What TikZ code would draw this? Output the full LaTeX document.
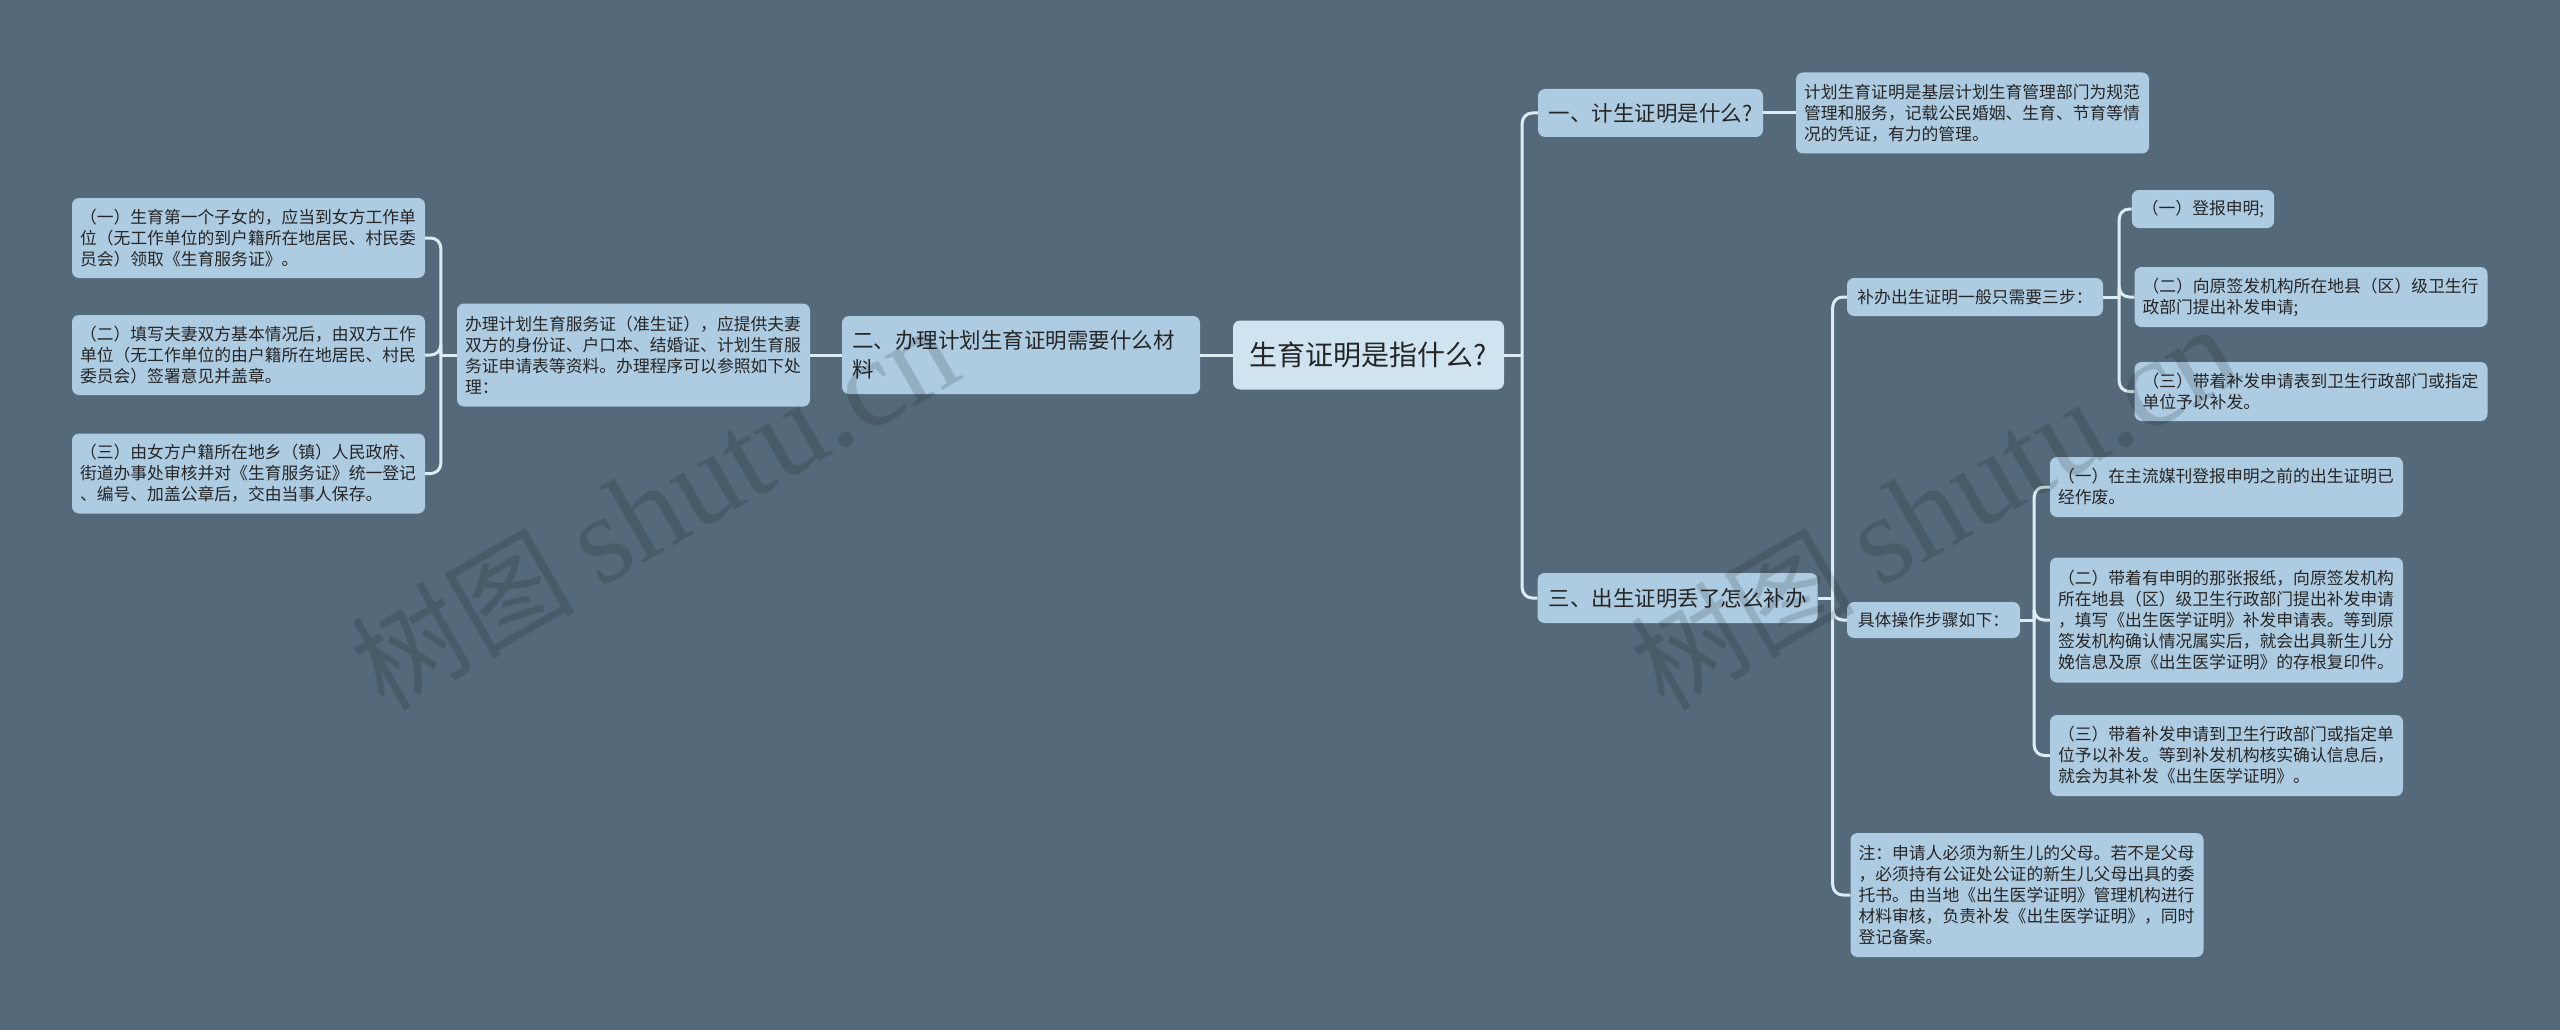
\documentclass[tikz,border=0pt]{standalone}
\usepackage{fontspec}
\setmainfont{Noto Sans CJK SC}
\newfontfamily\wmlatin{Liberation Serif}
\definecolor{bg}{HTML}{546A7A}
\definecolor{boxfill}{HTML}{ADCBE1}
\definecolor{ctrfill}{HTML}{CFE4F0}
\definecolor{linec}{HTML}{DCECF5}
\definecolor{txt}{HTML}{262626}
\begin{document}
\begin{tikzpicture}[x=1pt,y=-1pt,
  base/.style={rounded corners=7pt, fill=boxfill, text=txt, inner ysep=0pt, anchor=center},
  ctr/.style={base, fill=ctrfill, font=\fontsize{28}{34}\selectfont, minimum width=271pt, minimum height=69pt, inner xsep=14pt},
  lvone/.style={base, font=\fontsize{21.5}{29}\selectfont, inner xsep=10pt, minimum height=48pt},
  lvtwo/.style={base, font=\fontsize{16.8}{21}\selectfont, inner xsep=10pt, minimum height=38pt},
  leafbox/.style={base, font=\fontsize{16.8}{21}\selectfont, inner xsep=8pt, text width=337pt, align=left},
  conn/.style={draw=linec, line width=3pt},
  elbow/.style={conn, rounded corners=10pt},
  wm/.style={rotate=30, text=black, text opacity=0.14, font=\fontsize{112}{112}\selectfont}
]
\fill[bg] (0,0) rectangle (2560,1030);
\useasboundingbox (0,0) rectangle (2560,1030);

% root
\node[ctr] (root) at (1368.5,355) {生育证明是指什么?};

% left branch
\node[lvone, text width=338pt, align=left, minimum height=78pt] (b2) at (1021,355) {二、办理计划生育证明需要什么材\\料};
\node[leafbox, minimum height=103pt] (b2a) at (633.5,355) {办理计划生育服务证（准生证），应提供夫妻\\双方的身份证、户口本、结婚证、计划生育服\\务证申请表等资料。办理程序可以参照如下处\\理：};
\node[leafbox, minimum height=80pt] (l1) at (248.5,238) {（一）生育第一个子女的，应当到女方工作单\\位（无工作单位的到户籍所在地居民、村民委\\员会）领取《生育服务证》。};
\node[leafbox, minimum height=80pt] (l2) at (248.5,355) {（二）填写夫妻双方基本情况后，由双方工作\\单位（无工作单位的由户籍所在地居民、村民\\委员会）签署意见并盖章。};
\node[leafbox, minimum height=80pt] (l3) at (248.5,473.5) {（三）由女方户籍所在地乡（镇）人民政府、\\街道办事处审核并对《生育服务证》统一登记\\、编号、加盖公章后，交由当事人保存。};

% right branch
\node[lvone, minimum width=225pt] (r1) at (1650.5,113) {一、计生证明是什么?};
\node[leafbox, minimum height=81pt] (r1a) at (1972.5,113) {计划生育证明是基层计划生育管理部门为规范\\管理和服务，记载公民婚姻、生育、节育等情\\况的凭证，有力的管理。};

\node[lvone, minimum width=280pt, minimum height=50pt] (r3) at (1677.5,598) {三、出生证明丢了怎么补办};

\node[lvtwo, minimum width=256pt] (r3a) at (1975,297) {补办出生证明一般只需要三步：};
\node[lvtwo, minimum width=138pt] (c1) at (2203,209) {（一）登报申明;};
\node[leafbox, minimum height=60pt] (c2) at (2311,297) {（二）向原签发机构所在地县（区）级卫生行\\政部门提出补发申请;};
\node[leafbox, minimum height=59pt] (c3) at (2311,391.5) {（三）带着补发申请表到卫生行政部门或指定\\单位予以补发。};

\node[lvtwo, minimum width=173pt, minimum height=36pt] (r3b) at (1933.5,620) {具体操作步骤如下：};
\node[leafbox, minimum height=60pt] (d1) at (2226.5,487) {（一）在主流媒刊登报申明之前的出生证明已\\经作废。};
\node[leafbox, minimum height=125pt] (d2) at (2226.5,620) {（二）带着有申明的那张报纸，向原签发机构\\所在地县（区）级卫生行政部门提出补发申请\\，填写《出生医学证明》补发申请表。等到原\\签发机构确认情况属实后，就会出具新生儿分\\娩信息及原《出生医学证明》的存根复印件。};
\node[leafbox, minimum height=81pt] (d3) at (2226.5,755.5) {（三）带着补发申请到卫生行政部门或指定单\\位予以补发。等到补发机构核实确认信息后，\\就会为其补发《出生医学证明》。};

\node[leafbox, minimum height=124pt] (r3c) at (2027,895) {注：申请人必须为新生儿的父母。若不是父母\\，必须持有公证处公证的新生儿父母出具的委\\托书。由当地《出生医学证明》管理机构进行\\材料审核，负责补发《出生医学证明》，同时\\登记备案。};

% connectors
\draw[conn] (root.west) -- (b2.east);
\draw[conn] (b2.west) -- (b2a.east);
\draw[conn] (b2a.west) -- ++(-16,0) coordinate (jl);
\foreach \n in {l1,l2,l3} \draw[elbow] (jl) |- (\n.east);

\draw[conn] (root.east) -- ++(18,0) coordinate (jr);
\foreach \n in {r1,r3} \draw[elbow] (jr) |- (\n.west);
\draw[conn] (r1.east) -- (r1a.west);

\draw[conn] (r3.east) -- ++(15,0) coordinate (j3);
\foreach \n in {r3a,r3b,r3c} \draw[elbow] (j3) |- (\n.west);

\draw[conn] (r3a.east) -- ++(16,0) coordinate (ja);
\foreach \n in {c1,c2,c3} \draw[elbow] (ja) |- (\n.west);

\draw[conn] (r3b.east) -- ++(14,0) coordinate (jb);
\foreach \n in {d1,d2,d3} \draw[elbow] (jb) |- (\n.west);

% watermarks
\node[wm] (wm1) at (654,508) {树图\hspace{24pt}{\wmlatin\fontsize{126}{126}\selectfont shutu.cn}};
\node[wm] (wm2) at (1934,508) {树图\hspace{24pt}{\wmlatin\fontsize{126}{126}\selectfont shutu.cn}};
\end{tikzpicture}
\end{document}
